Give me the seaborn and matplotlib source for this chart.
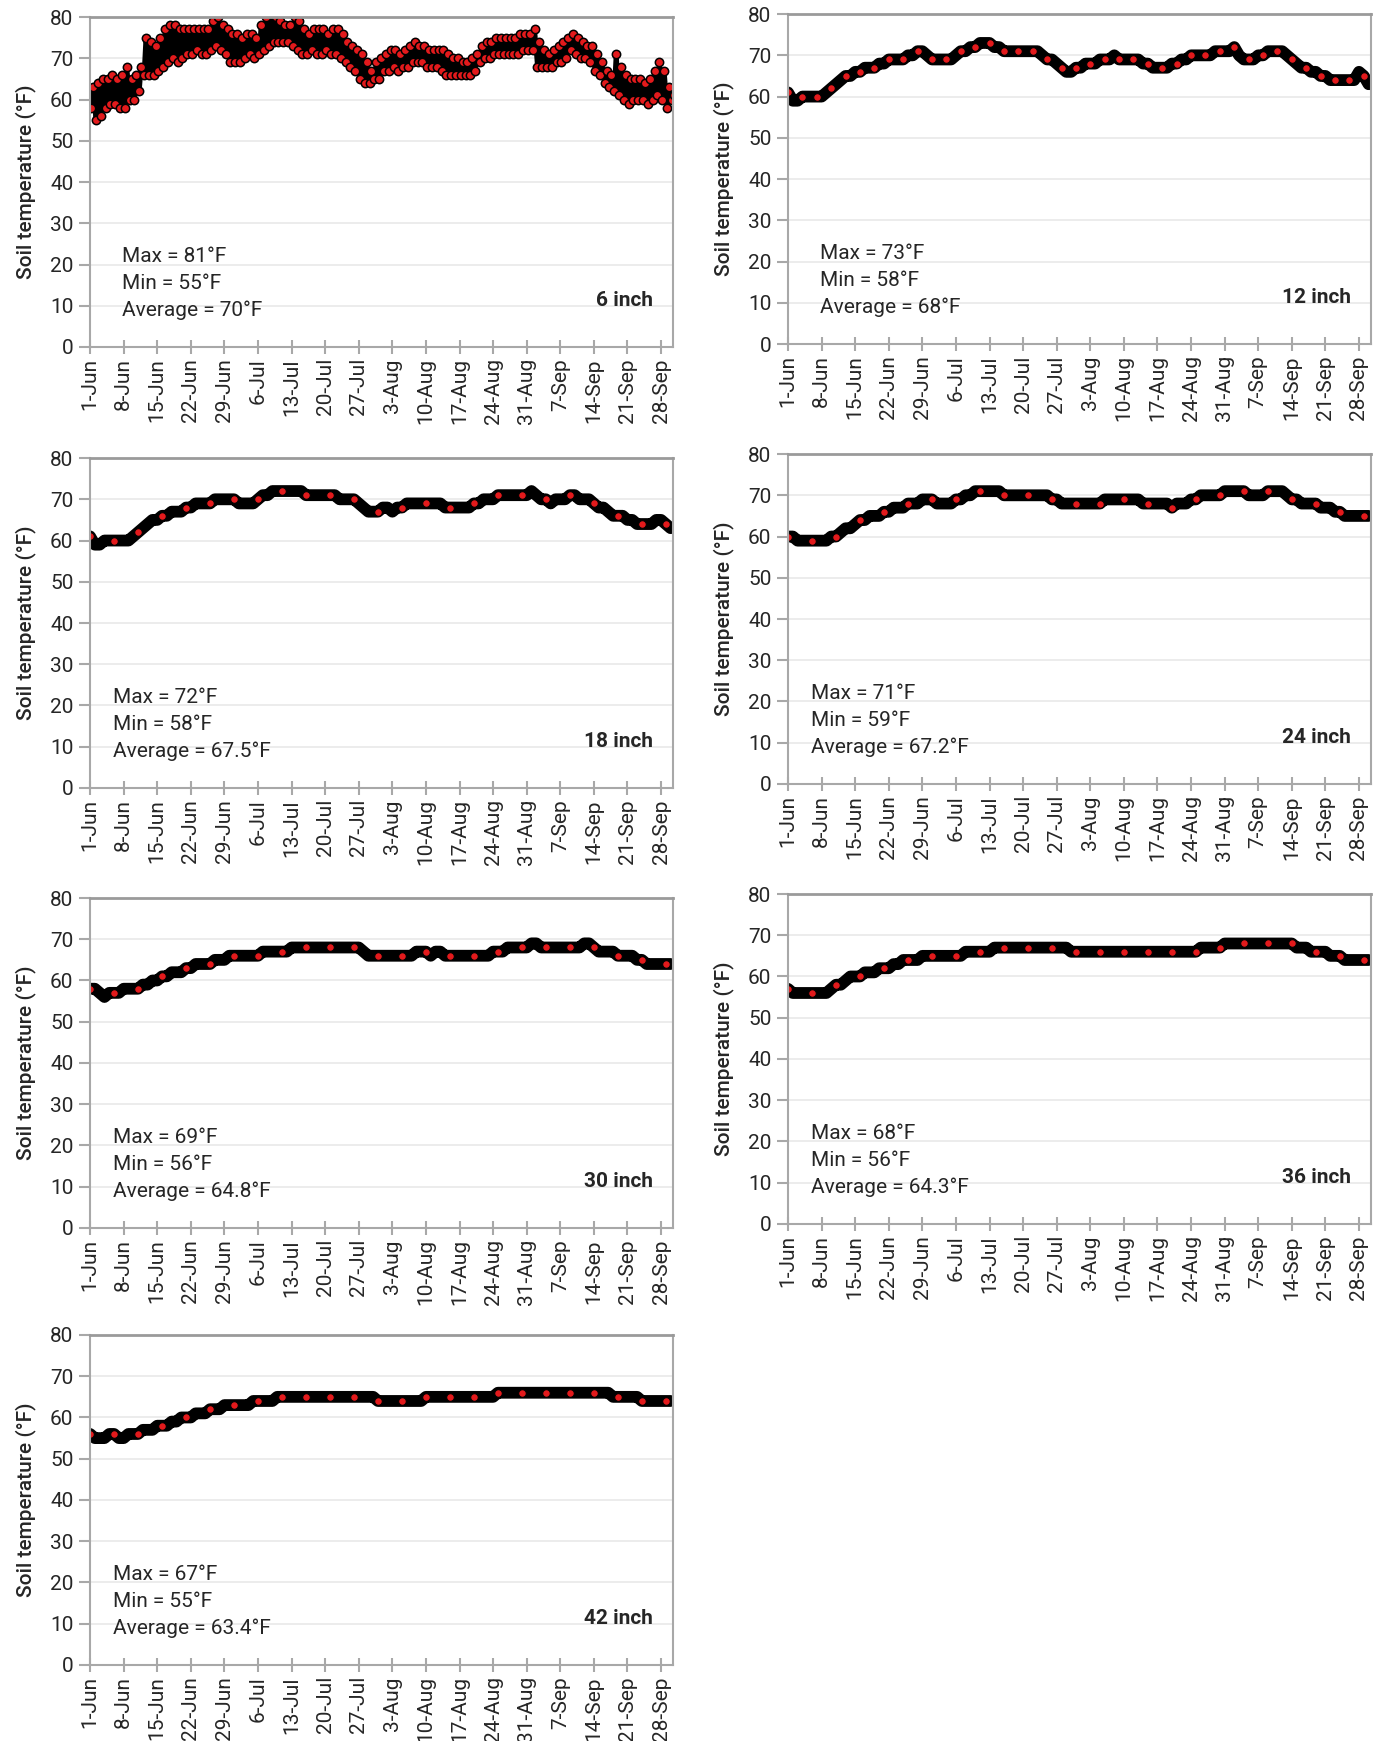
import numpy as np
import pandas as pd
import matplotlib
matplotlib.use('Agg')
import matplotlib.pyplot as plt
import seaborn as sns

# weekly date ticks, day 0 = 1 Jun
tick_days = list(range(0, 120, 7))
tick_labels = ['1-Jun', '8-Jun', '15-Jun', '22-Jun', '29-Jun', '6-Jul', '13-Jul', '20-Jul',
               '27-Jul', '3-Aug', '10-Aug', '17-Aug', '24-Aug', '31-Aug', '7-Sep', '14-Sep',
               '21-Sep', '28-Sep']

# 6 inch: daily low / high readings (F), 1 Jun - 30 Sep
depth6_low = [58, 55, 56, 58, 59, 59, 58, 58, 60, 60, 62, 66, 66, 66,
              67, 68, 69, 70, 69, 70, 71, 71, 72, 71, 71, 72, 73, 72,
              71, 69, 69, 69, 70, 71, 70, 71, 72, 73, 74, 74, 74, 74,
              73, 72, 71, 71, 72, 71, 71, 72, 71, 71, 70, 69, 68, 67,
              65, 64, 64, 65, 65, 67, 67, 68, 67, 68, 68, 69, 69, 69,
              68, 68, 68, 67, 66, 66, 66, 66, 66, 66, 67, 69, 70, 70,
              71, 71, 71, 71, 71, 71, 72, 72, 72, 68, 68, 68, 68, 69,
              69, 70, 72, 71, 70, 70, 69, 67, 66, 64, 63, 62, 61, 60,
              59, 60, 60, 60, 59, 60, 61, 60, 58, 60]
depth6_high = [63, 64, 65, 65, 66, 65, 66, 68, 65, 66, 68, 75, 74, 73,
               75, 77, 78, 78, 77, 77, 77, 77, 77, 77, 77, 79, 80, 78,
               77, 76, 76, 75, 76, 76, 75, 78, 80, 81, 80, 79, 78, 78,
               80, 79, 77, 76, 77, 77, 77, 76, 77, 77, 76, 74, 73, 72,
               71, 69, 67, 69, 70, 71, 72, 72, 71, 72, 73, 74, 73, 73,
               72, 72, 72, 72, 71, 70, 70, 69, 69, 70, 71, 73, 74, 74,
               75, 75, 75, 75, 75, 76, 76, 76, 77, 74, 72, 71, 72, 73,
               74, 75, 76, 75, 74, 73, 73, 71, 69, 67, 66, 71, 68, 66,
               65, 65, 65, 64, 65, 67, 69, 67, 63, 61]

# deeper sensors: daily values (F)
depth12 = [61, 59, 59, 60, 60, 60, 60, 60, 61, 62, 63, 64, 65, 65,
           66, 66, 67, 67, 67, 68, 68, 69, 69, 69, 69, 70, 70, 71,
           71, 70, 69, 69, 69, 69, 69, 70, 71, 71, 72, 72, 73, 73,
           73, 72, 72, 71, 71, 71, 71, 71, 71, 71, 71, 70, 69, 69,
           68, 67, 66, 66, 67, 67, 68, 68, 68, 69, 69, 69, 70, 69,
           69, 69, 69, 69, 68, 68, 67, 67, 67, 67, 68, 68, 69, 69,
           70, 70, 70, 70, 70, 71, 71, 71, 71, 72, 70, 69, 69, 69,
           70, 70, 71, 71, 71, 71, 70, 69, 68, 67, 67, 66, 66, 65,
           65, 64, 64, 64, 64, 64, 64, 66, 65, 63]
depth18 = [61, 59, 59, 60, 60, 60, 60, 60, 60, 61, 62, 63, 64, 65,
           65, 66, 66, 67, 67, 67, 68, 68, 69, 69, 69, 69, 70, 70,
           70, 70, 70, 69, 69, 69, 69, 70, 71, 71, 72, 72, 72, 72,
           72, 72, 72, 71, 71, 71, 71, 71, 71, 71, 70, 70, 70, 70,
           69, 68, 67, 67, 67, 68, 68, 67, 68, 68, 69, 69, 69, 69,
           69, 69, 69, 69, 68, 68, 68, 68, 68, 68, 69, 69, 70, 70,
           70, 71, 71, 71, 71, 71, 71, 71, 72, 71, 70, 70, 69, 70,
           70, 70, 71, 71, 70, 70, 70, 69, 68, 68, 67, 66, 66, 66,
           65, 65, 64, 64, 64, 64, 65, 65, 64, 63]
depth24 = [60, 60, 59, 59, 59, 59, 59, 59, 59, 60, 60, 61, 62, 62,
           63, 64, 64, 65, 65, 65, 66, 66, 67, 67, 67, 68, 68, 68,
           69, 69, 69, 68, 68, 68, 68, 69, 69, 70, 70, 71, 71, 71,
           71, 71, 71, 70, 70, 70, 70, 70, 70, 70, 70, 70, 70, 69,
           69, 68, 68, 68, 68, 68, 68, 68, 68, 68, 69, 69, 69, 69,
           69, 69, 69, 69, 68, 68, 68, 68, 68, 68, 67, 68, 68, 68,
           69, 69, 70, 70, 70, 70, 70, 71, 71, 71, 71, 71, 70, 70,
           70, 70, 71, 71, 71, 71, 70, 69, 69, 68, 68, 68, 68, 67,
           67, 67, 66, 66, 65, 65, 65, 65, 65, 65]
depth30 = [58, 58, 57, 56, 57, 57, 57, 58, 58, 58, 58, 59, 59, 60,
           60, 61, 61, 62, 62, 62, 63, 63, 64, 64, 64, 64, 65, 65,
           65, 66, 66, 66, 66, 66, 66, 66, 67, 67, 67, 67, 67, 67,
           68, 68, 68, 68, 68, 68, 68, 68, 68, 68, 68, 68, 68, 68,
           68, 67, 66, 66, 66, 66, 66, 66, 66, 66, 66, 66, 67, 67,
           67, 66, 67, 67, 66, 66, 66, 66, 66, 66, 66, 66, 66, 66,
           67, 67, 67, 68, 68, 68, 68, 68, 69, 69, 68, 68, 68, 68,
           68, 68, 68, 68, 68, 69, 69, 68, 67, 67, 67, 67, 66, 66,
           66, 66, 65, 65, 64, 64, 64, 64, 64, 64]
depth36 = [57, 56, 56, 56, 56, 56, 56, 56, 56, 57, 58, 58, 59, 60,
           60, 60, 61, 61, 61, 62, 62, 62, 63, 63, 64, 64, 64, 64,
           65, 65, 65, 65, 65, 65, 65, 65, 65, 66, 66, 66, 66, 66,
           66, 67, 67, 67, 67, 67, 67, 67, 67, 67, 67, 67, 67, 67,
           67, 67, 67, 66, 66, 66, 66, 66, 66, 66, 66, 66, 66, 66,
           66, 66, 66, 66, 66, 66, 66, 66, 66, 66, 66, 66, 66, 66,
           66, 66, 67, 67, 67, 67, 67, 68, 68, 68, 68, 68, 68, 68,
           68, 68, 68, 68, 68, 68, 68, 68, 67, 67, 67, 66, 66, 66,
           66, 65, 65, 65, 64, 64, 64, 64, 64, 64]
depth42 = [56, 55, 55, 55, 56, 56, 55, 55, 56, 56, 56, 57, 57, 57,
           58, 58, 58, 59, 59, 60, 60, 60, 61, 61, 61, 62, 62, 62,
           63, 63, 63, 63, 63, 63, 64, 64, 64, 64, 64, 65, 65, 65,
           65, 65, 65, 65, 65, 65, 65, 65, 65, 65, 65, 65, 65, 65,
           65, 65, 65, 65, 64, 64, 64, 64, 64, 64, 64, 64, 64, 64,
           65, 65, 65, 65, 65, 65, 65, 65, 65, 65, 65, 65, 65, 65,
           65, 66, 66, 66, 66, 66, 66, 66, 66, 66, 66, 66, 66, 66,
           66, 66, 66, 66, 66, 66, 66, 66, 66, 66, 66, 65, 65, 65,
           65, 65, 65, 64, 64, 64, 64, 64, 64, 64]

depth_names = ['6 inch', '12 inch', '18 inch', '24 inch', '30 inch', '36 inch', '42 inch']
stat_max = ['81', '73', '72', '71', '69', '68', '67']
stat_min = ['55', '58', '58', '59', '56', '56', '55']
stat_avg = ['70', '68', '67.5', '67.2', '64.8', '64.3', '63.4']
deep_series = [None, depth12, depth18, depth24, depth30, depth36, depth42]

sns.set_style('white')
plt.rcParams['font.family'] = ['Roboto', 'DejaVu Sans']

fig = plt.figure(figsize=(13.92, 17.41), dpi=100)

# axes boxes (left, bottom) in figure fraction
positions = [(0.0647, 0.8007), (0.5661, 0.8024),
             (0.0647, 0.5474), (0.5661, 0.5497),
             (0.0647, 0.2947), (0.5661, 0.2970),
             (0.0647, 0.0437)]
text_x = [0.055, 0.055, 0.04, 0.04, 0.04, 0.04, 0.04]

red = '#e31a1c'
spine_grey = '#a8a8a8'

for i, name in enumerate(depth_names):
    left, bottom = positions[i]
    ax = fig.add_axes([left, bottom, 0.4188, 0.1895])

    if i == 0:
        days = np.arange(len(depth6_low))
        # morning low and afternoon high readings
        t = np.column_stack([days + 0.25, days + 0.65]).ravel()
        temp = np.column_stack([depth6_low, depth6_high]).ravel()
        df = pd.DataFrame({'time': t, 'temp': temp})
        sns.lineplot(data=df, x='time', y='temp', ax=ax, estimator=None, sort=False,
                     color='black', linewidth=3.5, marker='o', markersize=6,
                     markerfacecolor=red, markeredgecolor='black', markeredgewidth=1.1)
    else:
        vals = deep_series[i]
        df = pd.DataFrame({'time': np.arange(len(vals)), 'temp': vals})
        sns.lineplot(data=df, x='time', y='temp', ax=ax, estimator=None,
                     color='black', linewidth=8.5, solid_joinstyle='round',
                     solid_capstyle='round')
        sns.lineplot(data=df, x='time', y='temp', ax=ax, estimator=None,
                     color='black', linewidth=0, marker='o', markersize=5.5,
                     markerfacecolor=red, markeredgecolor='black', markeredgewidth=0.8,
                     markevery=3 if i == 1 else 5)

    ax.set_xlim(0, 121.5)
    ax.set_ylim(0, 80)
    ax.set_yticks(range(0, 81, 10))
    ax.set_xticks(tick_days)
    ax.set_xticklabels(tick_labels, rotation=90)
    ax.set_xlabel('')
    ax.set_ylabel('Soil temperature (°F)', fontsize=15, fontweight='medium', labelpad=10)
    ax.yaxis.grid(True, color='#e9e9e9', linewidth=1.2)
    ax.xaxis.grid(False)
    ax.set_axisbelow(True)

    for s in ['left', 'right', 'bottom']:
        ax.spines[s].set_color(spine_grey)
        ax.spines[s].set_linewidth(1.5)
    ax.spines['top'].set_color('#9a9a9a')
    ax.spines['top'].set_linewidth(2)

    ax.tick_params(axis='y', direction='out', length=8, width=1.5, color=spine_grey,
                   labelsize=15, pad=4, left=True)
    ax.tick_params(axis='x', direction='inout', length=10, width=1.5, color=spine_grey,
                   labelsize=15, pad=3, bottom=True)

    tx = text_x[i]
    ax.text(tx, 0.275, 'Max = ' + stat_max[i] + '°F', transform=ax.transAxes,
            fontsize=15, va='center', ha='left')
    ax.text(tx, 0.193, 'Min = ' + stat_min[i] + '°F', transform=ax.transAxes,
            fontsize=15, va='center', ha='left')
    ax.text(tx, 0.111, 'Average = ' + stat_avg[i] + '°F', transform=ax.transAxes,
            fontsize=15, va='center', ha='left')
    ax.text(0.966, 0.14, name, transform=ax.transAxes, fontsize=15,
            fontweight='bold', va='center', ha='right')

fig.savefig('out.png', dpi=100, facecolor='white')
